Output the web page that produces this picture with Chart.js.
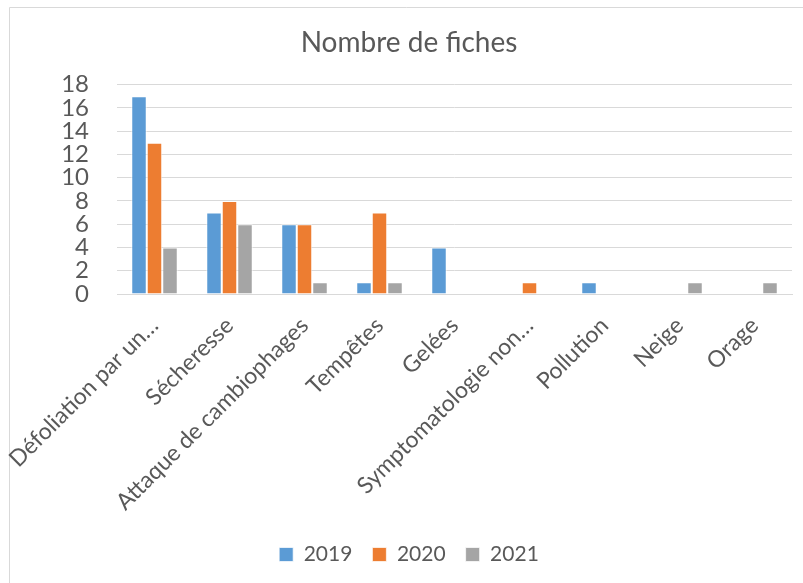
<!DOCTYPE html>
<html><head><meta charset="utf-8">
<script src="https://cdn.jsdelivr.net/npm/chart.js@4"></script>
<style>html,body{margin:0;padding:0;background:#fff}#wrap{width:803px;height:583px;position:relative}</style>
</head><body><div id="wrap"><canvas id="c" width="803" height="583"></canvas></div>
<script>
const categories = ["Défoliation par un…","Sécheresse","Attaque de cambiophages","Tempêtes","Gelées","Symptomatologie non…","Pollution","Neige","Orage"];
const series2019 = [17,7,6,1,4,0,1,0,0];
const series2020 = [13,8,6,7,0,1,0,0,0];
const series2021 = [4,6,1,1,0,0,0,1,1];
const yTicks = [0,2,4,6,8,10,12,14,16,18];

const FONT = "Lato, 'Open Sans', sans-serif";
const TXT = "#595959";

const frame = {
  id:'frame',
  beforeDraw(chart){
    const ctx = chart.ctx;
    ctx.save();
    ctx.fillStyle = '#fff';
    ctx.fillRect(0,0,chart.width,chart.height);
    ctx.strokeStyle = '#d9d9d9';
    ctx.lineWidth = 1;
    ctx.beginPath();
    ctx.moveTo(9.5, chart.height);
    ctx.lineTo(9.5, 7.5);
    ctx.lineTo(chart.width, 7.5);
    ctx.stroke();
    ctx.restore();
  }
};

new Chart(document.getElementById('c'), {
  type:'bar',
  data:{
    labels: categories,
    datasets:[
      {label:'2019', data:series2019, backgroundColor:'#5B9BD5', borderColor:'rgba(255,255,255,0.7)', borderWidth:1},
      {label:'2020', data:series2020, backgroundColor:'#ED7D31', borderColor:'rgba(255,255,255,0.7)', borderWidth:1},
      {label:'2021', data:series2021, backgroundColor:'#A5A5A5', borderColor:'rgba(255,255,255,0.7)', borderWidth:1}
    ]
  },
  plugins:[frame],
  options:{
    responsive:false,
    animation:false,
    devicePixelRatio:1,
    layout:{padding:{left:26,right:11,top:16,bottom:8}},
    datasets:{bar:{categoryPercentage:0.62, barPercentage:1}},
    plugins:{
      title:{display:true, text:'Nombre de fiches', color:TXT, font:{family:FONT,size:28,weight:'normal'}, padding:{top:10,bottom:25}},
      legend:{position:'bottom', labels:{color:TXT, font:{family:FONT,size:21}, boxWidth:14, boxHeight:14, padding:20}},
      tooltip:{enabled:false}
    },
    scales:{
      x:{
        grid:{display:false, drawTicks:false},
        border:{display:true, color:'#d9d9d9'},
        ticks:{color:TXT, font:{family:FONT,size:23}, maxRotation:45, minRotation:45, autoSkip:false, padding:18},
        afterFit(s){ s.height = 230; s.paddingLeft = 0; s.paddingRight = 0; }
      },
      y:{
        min:0, max:18,
        afterBuildTicks(s){ s.ticks = yTicks.map(v=>({value:v})); },
        grid:{color:'#d9d9d9', drawTicks:false},
        border:{display:false},
        ticks:{color:TXT, font:{family:FONT,size:24}, padding:28, autoSkip:false},
        afterFit(s){ s.width = 91; s.paddingTop = 0; s.paddingBottom = 0; }
      }
    }
  }
});
</script></body></html>
